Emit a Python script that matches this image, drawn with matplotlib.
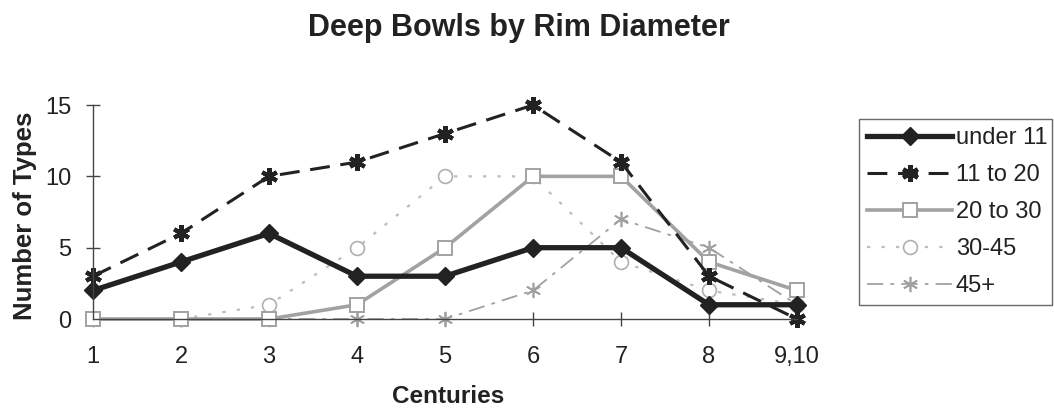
import matplotlib.pyplot as plt
import numpy as np

plt.rcParams['font.family'] = ['Liberation Sans', 'DejaVu Sans']

centuries = ['1', '2', '3', '4', '5', '6', '7', '8', '9,10']
under_11 = [2, 4, 6, 3, 3, 5, 5, 1, 1]
from_11_to_20 = [3, 6, 10, 11, 13, 15, 11, 3, 0]
from_20_to_30 = [0, 0, 0, 1, 5, 10, 10, 4, 2]
from_30_to_45 = [0, 0, 1, 5, 10, 10, 4, 2, 1]
over_45 = [0, 0, 0, 0, 0, 2, 7, 5, 1]

x = np.arange(1, len(centuries) + 1)
ink = '#222222'

fig = plt.figure(figsize=(10.54, 4.09), dpi=100)
ax = fig.add_axes([0.0882, 0.2200, 0.668, 0.5232])

# back to front, heavy black series last
ax.plot(x, over_45, color='#a0a0a0', lw=1.3, ls=(0, (9, 4, 2, 4)),
        marker=(6, 2, 0), ms=11, mec='#a0a0a0', mew=1.2, label='45+', clip_on=False)
ax.plot(x, from_30_to_45, color='#bdbdbd', lw=1.6, ls=(0, (1.5, 5)),
        marker='o', ms=10, mfc='white', mec='#b0b0b0', mew=1.2, label='30-45', clip_on=False)
ax.plot(x, from_20_to_30, color='#a2a2a2', lw=2.6, ls='-',
        marker='s', ms=10, mfc='white', mec='#a2a2a2', mew=1.4, label='20 to 30', clip_on=False)
ax.plot(x, from_11_to_20, color=ink, lw=2.2, ls=(0, (6.5, 3.5)),
        marker=(6, 2, 0), ms=12, mec=ink, mew=3.0, label='11 to 20', clip_on=False)
ax.plot(x, under_11, color=ink, lw=3.8, ls='-',
        marker='D', ms=9, mfc=ink, mec=ink, label='under 11', clip_on=False)

ax.set_xlim(1, 9)
ax.set_ylim(0, 15)
ax.set_xticks(x)
ax.set_xticklabels(centuries)
ax.set_yticks([0, 5, 10, 15])

for side in ['top', 'right']:
    ax.spines[side].set_visible(False)
for side in ['left', 'bottom']:
    ax.spines[side].set_color('#444444')
    ax.spines[side].set_linewidth(1.0)
ax.tick_params(axis='both', direction='inout', length=9.4, width=1.0, color='#444444',
               labelsize=17, labelcolor=ink)
ax.tick_params(axis='y', pad=11)
ax.tick_params(axis='x', pad=15)

fig.suptitle('Deep Bowls by Rim Diameter', x=0.492, y=0.932, va='center',
             fontsize=22, fontweight='bold', color=ink)

ax.set_xlabel('Centuries', fontsize=17.5, fontweight='bold', color=ink)
ax.xaxis.set_label_coords(0.504, -0.36)
ax.xaxis.label.set_va('center')
ax.set_ylabel('Number of Types', fontsize=18.5, fontweight='bold', color=ink)
ax.yaxis.set_label_coords(-0.097, 0.48)
ax.yaxis.label.set_va('center')

handles, labels = ax.get_legend_handles_labels()
leg_h = 187 / 409
leg = fig.legend(handles[::-1], labels[::-1], loc='upper left',
                 bbox_to_anchor=(0.815, 0.709 - leg_h, 0.183, leg_h), mode='expand',
                 borderaxespad=0, fontsize=17, frameon=True, fancybox=False,
                 edgecolor='#444444', handlelength=3.6, handletextpad=0.15,
                 labelspacing=0.63, borderpad=0.35)
leg.get_frame().set_linewidth(1.0)
for t in leg.get_texts():
    t.set_color(ink)

fig.savefig('out.png', dpi=100)
